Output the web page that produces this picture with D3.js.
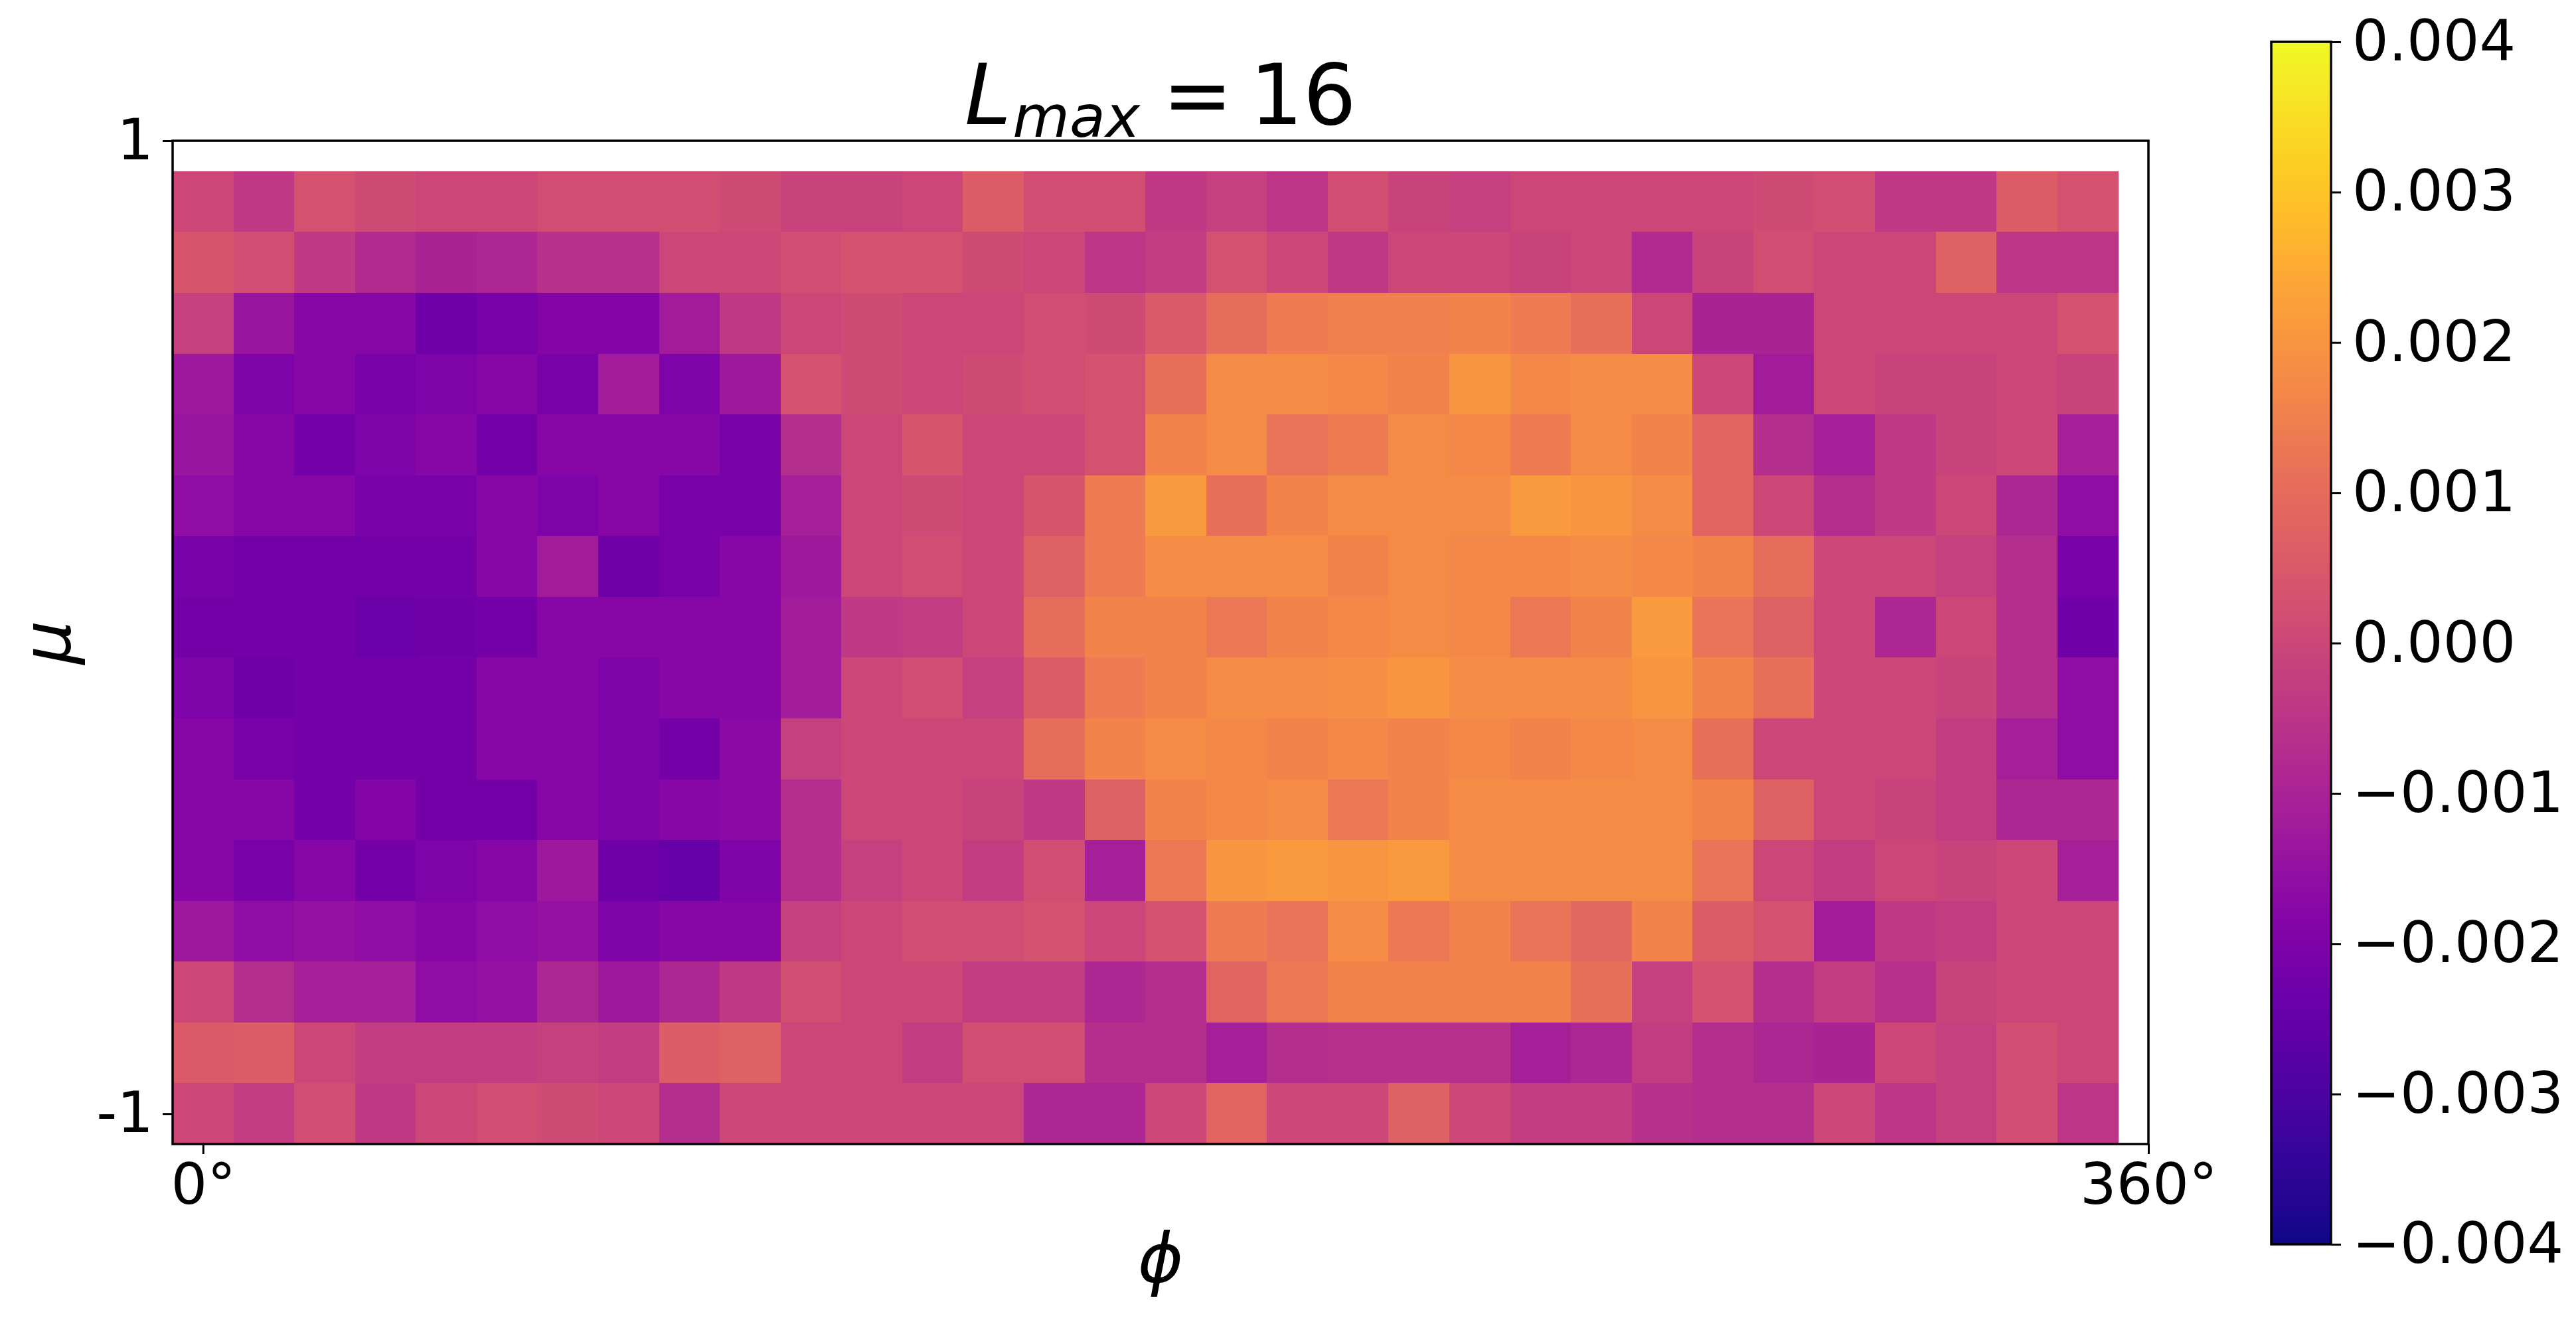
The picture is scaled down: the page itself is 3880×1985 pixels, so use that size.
<!DOCTYPE html>
<html>
<head>
<meta charset="utf-8">
<script src="https://cdn.jsdelivr.net/npm/d3@7"></script>
<style>
  body { margin: 0; background: #fff; }
  text { font-family: "DejaVu Sans", sans-serif; fill: #000; }
</style>
</head>
<body>
<svg id="chart" width="3880" height="1985"></svg>
<script>
// cell centres (phi in degrees, mu = cos theta), top row first
const phiCenters = [0, 11.25, 22.5, 33.75, 45, 56.25, 67.5, 78.75, 90, 101.25, 112.5, 123.75,
  135, 146.25, 157.5, 168.75, 180, 191.25, 202.5, 213.75, 225, 236.25, 247.5, 258.75,
  270, 281.25, 292.5, 303.75, 315, 326.25, 337.5, 348.75];
const muCenters = [0.875, 0.75, 0.625, 0.5, 0.375, 0.25, 0.125, 0, -0.125, -0.25, -0.375, -0.5, -0.625, -0.75, -0.875, -1.0];

// one row per mu (top to bottom)
const values = [
  [0.0000, -0.0004, 0.0003, 0.0001, 0.0000, 0.0000, 0.0002, 0.0002, 0.0002, 0.0001, -0.0001, -0.0001, 0.0000, 0.0006, 0.0002, 0.0002, -0.0004, -0.0002, -0.0005, 0.0002, -0.0001, -0.0002, 0.0000, 0.0000, 0.0000, 0.0000, 0.0001, 0.0002, -0.0004, -0.0004, 0.0006, 0.0003],
  [0.0004, 0.0002, -0.0004, -0.0008, -0.0010, -0.0009, -0.0006, -0.0006, 0.0000, 0.0000, 0.0002, 0.0003, 0.0003, 0.0001, 0.0000, -0.0005, -0.0003, 0.0003, 0.0000, -0.0004, 0.0000, 0.0000, -0.0001, 0.0000, -0.0008, -0.0001, 0.0002, 0.0000, 0.0000, 0.0007, -0.0005, -0.0005],
  [-0.0002, -0.0014, -0.0018, -0.0018, -0.0023, -0.0021, -0.0019, -0.0019, -0.0012, -0.0004, 0.0000, 0.0001, 0.0000, 0.0000, 0.0002, 0.0001, 0.0005, 0.0010, 0.0014, 0.0015, 0.0015, 0.0016, 0.0014, 0.0011, 0.0000, -0.0010, -0.0010, 0.0000, 0.0000, 0.0000, 0.0000, 0.0003],
  [-0.0013, -0.0020, -0.0018, -0.0021, -0.0020, -0.0018, -0.0021, -0.0012, -0.0020, -0.0013, 0.0003, 0.0001, 0.0000, 0.0001, 0.0002, 0.0003, 0.0011, 0.0018, 0.0018, 0.0017, 0.0016, 0.0020, 0.0017, 0.0018, 0.0018, 0.0000, -0.0012, 0.0000, -0.0001, -0.0001, 0.0000, -0.0001],
  [-0.0014, -0.0018, -0.0022, -0.0020, -0.0018, -0.0022, -0.0018, -0.0018, -0.0018, -0.0021, -0.0007, 0.0000, 0.0004, 0.0000, 0.0000, 0.0003, 0.0016, 0.0018, 0.0012, 0.0014, 0.0018, 0.0017, 0.0014, 0.0018, 0.0016, 0.0008, -0.0007, -0.0011, -0.0004, -0.0001, 0.0000, -0.0011],
  [-0.0016, -0.0018, -0.0018, -0.0021, -0.0021, -0.0018, -0.0020, -0.0018, -0.0021, -0.0021, -0.0011, 0.0000, 0.0001, 0.0000, 0.0004, 0.0014, 0.0021, 0.0011, 0.0016, 0.0018, 0.0018, 0.0018, 0.0021, 0.0020, 0.0018, 0.0008, 0.0000, -0.0007, -0.0004, 0.0000, -0.0009, -0.0016],
  [-0.0021, -0.0022, -0.0022, -0.0022, -0.0022, -0.0018, -0.0012, -0.0023, -0.0021, -0.0018, -0.0013, 0.0000, 0.0002, 0.0000, 0.0007, 0.0014, 0.0018, 0.0018, 0.0018, 0.0016, 0.0018, 0.0017, 0.0017, 0.0018, 0.0017, 0.0016, 0.0010, 0.0000, 0.0000, -0.0002, -0.0007, -0.0021],
  [-0.0022, -0.0022, -0.0022, -0.0024, -0.0023, -0.0022, -0.0018, -0.0018, -0.0018, -0.0018, -0.0012, -0.0004, -0.0003, 0.0000, 0.0010, 0.0016, 0.0016, 0.0013, 0.0016, 0.0017, 0.0018, 0.0017, 0.0013, 0.0016, 0.0021, 0.0012, 0.0007, 0.0000, -0.0009, 0.0000, -0.0007, -0.0023],
  [-0.0020, -0.0023, -0.0022, -0.0022, -0.0022, -0.0018, -0.0018, -0.0020, -0.0018, -0.0018, -0.0012, 0.0000, 0.0002, -0.0002, 0.0006, 0.0014, 0.0016, 0.0018, 0.0018, 0.0019, 0.0020, 0.0018, 0.0018, 0.0018, 0.0020, 0.0016, 0.0011, 0.0000, 0.0000, -0.0001, -0.0007, -0.0016],
  [-0.0018, -0.0021, -0.0022, -0.0022, -0.0022, -0.0018, -0.0018, -0.0020, -0.0022, -0.0017, -0.0002, 0.0000, 0.0000, 0.0000, 0.0010, 0.0016, 0.0018, 0.0017, 0.0016, 0.0017, 0.0016, 0.0017, 0.0016, 0.0017, 0.0018, 0.0011, 0.0000, 0.0000, 0.0000, -0.0003, -0.0011, -0.0016],
  [-0.0018, -0.0018, -0.0022, -0.0019, -0.0022, -0.0022, -0.0018, -0.0020, -0.0018, -0.0017, -0.0007, 0.0000, 0.0000, -0.0001, -0.0004, 0.0007, 0.0016, 0.0017, 0.0018, 0.0013, 0.0016, 0.0018, 0.0018, 0.0018, 0.0018, 0.0016, 0.0007, 0.0000, -0.0001, -0.0003, -0.0009, -0.0009],
  [-0.0018, -0.0021, -0.0018, -0.0022, -0.0020, -0.0018, -0.0013, -0.0023, -0.0025, -0.0020, -0.0007, -0.0002, 0.0000, -0.0003, 0.0002, -0.0011, 0.0013, 0.0020, 0.0021, 0.0020, 0.0021, 0.0018, 0.0018, 0.0018, 0.0018, 0.0012, 0.0000, -0.0003, 0.0000, -0.0001, 0.0000, -0.0011],
  [-0.0013, -0.0016, -0.0015, -0.0016, -0.0018, -0.0016, -0.0015, -0.0020, -0.0018, -0.0018, -0.0002, 0.0000, 0.0002, 0.0002, 0.0003, 0.0000, 0.0003, 0.0014, 0.0012, 0.0018, 0.0013, 0.0016, 0.0012, 0.0009, 0.0016, 0.0006, 0.0003, -0.0012, -0.0004, -0.0003, 0.0000, 0.0000],
  [0.0000, -0.0007, -0.0011, -0.0011, -0.0016, -0.0015, -0.0009, -0.0013, -0.0009, -0.0004, 0.0002, 0.0000, 0.0000, -0.0003, -0.0003, -0.0009, -0.0007, 0.0008, 0.0013, 0.0016, 0.0016, 0.0016, 0.0016, 0.0011, -0.0002, 0.0003, -0.0007, -0.0003, -0.0006, -0.0001, 0.0000, 0.0000],
  [0.0005, 0.0006, 0.0000, -0.0003, -0.0003, -0.0003, -0.0002, -0.0003, 0.0006, 0.0007, 0.0000, 0.0000, -0.0003, 0.0002, 0.0002, -0.0007, -0.0007, -0.0011, -0.0007, -0.0006, -0.0006, -0.0006, -0.0011, -0.0009, -0.0003, -0.0007, -0.0009, -0.0010, 0.0000, -0.0002, 0.0002, 0.0000],
  [0.0000, -0.0003, 0.0002, -0.0004, 0.0000, 0.0002, 0.0001, 0.0000, -0.0007, 0.0000, 0.0000, 0.0000, 0.0000, 0.0000, -0.0009, -0.0009, 0.0000, 0.0008, 0.0000, 0.0000, 0.0007, 0.0000, -0.0003, -0.0003, -0.0006, -0.0007, -0.0007, 0.0000, -0.0005, -0.0002, 0.0002, -0.0005]
];

const xTicks = [0, 360];
const xTickLabels = ["0°", "360°"];
const yTicks = [-1, 1];
const yTickLabels = ["-1", "1"];
const cbarTicks = [-0.004, -0.003, -0.002, -0.001, 0, 0.001, 0.002, 0.003, 0.004];

const svg = d3.select("#chart");
svg.append("rect").attr("width", 3880).attr("height", 1985).attr("fill", "#fff");

const x = d3.scaleLinear().domain([-5.625, 360]).range([260, 3236]);
const y = d3.scaleLinear().domain([1, -1.0625]).range([212, 1723]);
const color = d3.scaleSequential(d3.interpolatePlasma).domain([-0.004, 0.004]);

const dPhi = 11.25, dMu = 0.125;

// heatmap cells
const cells = [];
values.forEach((row, j) => row.forEach((v, i) => cells.push({phi: phiCenters[i], mu: muCenters[j], v: v})));

svg.append("g").selectAll("rect")
  .data(cells)
  .enter().append("rect")
  .attr("x", d => x(d.phi - dPhi / 2))
  .attr("y", d => y(d.mu + dMu / 2))
  .attr("width", d => x(d.phi + dPhi / 2) - x(d.phi - dPhi / 2) + 0.5)
  .attr("height", d => y(d.mu - dMu / 2) - y(d.mu + dMu / 2) + 0.5)
  .attr("fill", d => color(d.v))
  .attr("shape-rendering", "crispEdges");

// frame
const [x0, x1] = x.range(), [y0, y1] = y.range();
svg.append("rect")
  .attr("x", x0).attr("y", y0)
  .attr("width", x1 - x0).attr("height", y1 - y0)
  .attr("fill", "none").attr("stroke", "#000").attr("stroke-width", 3.5);

// x axis
const xAxis = svg.append("g").attr("transform", `translate(0,${y1})`)
  .call(d3.axisBottom(x).tickValues(xTicks).tickFormat((d, i) => xTickLabels[i]).tickSize(15).tickPadding(10));
// y axis
const yAxis = svg.append("g").attr("transform", `translate(${x0},0)`)
  .call(d3.axisLeft(y).tickValues(yTicks).tickFormat((d, i) => yTickLabels[i]).tickSize(15).tickPadding(14));

[xAxis, yAxis].forEach(a => {
  a.select(".domain").remove();
  a.selectAll(".tick line").attr("stroke", "#000").attr("stroke-width", 3);
  a.selectAll(".tick text").attr("font-family", "DejaVu Sans").attr("font-size", 86).attr("fill", "#000");
});
xAxis.selectAll(".tick text").attr("dy", "0.76em");

// axis labels
svg.append("text")
  .attr("x", (x0 + x1) / 2).attr("y", 1931)
  .attr("text-anchor", "middle").attr("font-size", 104).attr("font-style", "italic")
  .text("ϕ");
svg.append("text")
  .attr("transform", `translate(106,${(y0 + y1) / 2}) rotate(-90)`)
  .attr("text-anchor", "middle").attr("font-size", 104).attr("font-style", "italic")
  .text("μ");

// title L_max = 16
const title = svg.append("text")
  .attr("x", (x0 + x1) / 2).attr("y", 187)
  .attr("text-anchor", "middle").attr("font-size", 126);
title.append("tspan").attr("font-style", "italic").text("L");
title.append("tspan").attr("font-style", "italic").attr("font-size", 88).attr("dy", 19).attr("dx", 2).text("max");
title.append("tspan").attr("dy", -19).attr("dx", 34).text("=");
title.append("tspan").attr("dx", 26).text("16");

// colorbar
const cb = {x: 3421, w: 90};
const cy = d3.scaleLinear().domain([-0.004, 0.004]).range([1874, 63]);
const grad = svg.append("defs").append("linearGradient")
  .attr("id", "plasma").attr("x1", 0).attr("y1", 1).attr("x2", 0).attr("y2", 0);
d3.range(0, 1.0001, 0.02).forEach(t => {
  grad.append("stop").attr("offset", t).attr("stop-color", d3.interpolatePlasma(t));
});
svg.append("rect")
  .attr("x", cb.x).attr("y", cy(0.004))
  .attr("width", cb.w).attr("height", cy(-0.004) - cy(0.004))
  .attr("fill", "url(#plasma)").attr("stroke", "#000").attr("stroke-width", 3.5);

const cAxis = svg.append("g").attr("transform", `translate(${cb.x + cb.w},0)`)
  .call(d3.axisRight(cy).tickValues(cbarTicks)
    .tickFormat(d => (d < 0 ? "\u2212" : "") + Math.abs(d).toFixed(3))
    .tickSize(15).tickPadding(17));
cAxis.select(".domain").remove();
cAxis.selectAll(".tick line").attr("stroke", "#000").attr("stroke-width", 3);
cAxis.selectAll(".tick text").attr("font-family", "DejaVu Sans").attr("font-size", 86).attr("fill", "#000");
</script>
</body>
</html>
